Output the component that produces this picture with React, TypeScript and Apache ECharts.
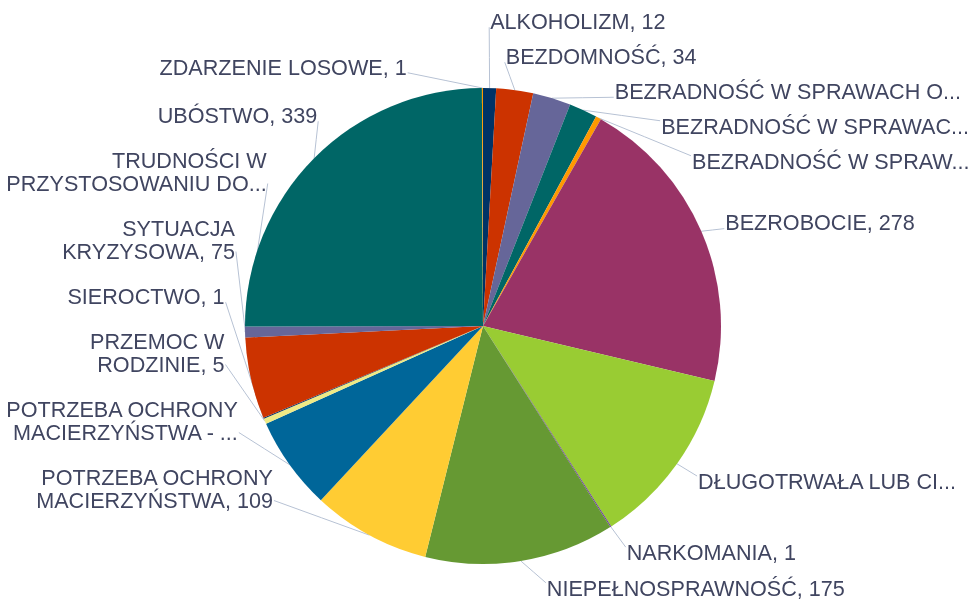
import React, { useEffect, useRef } from "react";
import * as echarts from "echarts";

const categories = [
  "ALKOHOLIZM",
  "BEZDOMNOŚĆ",
  "BEZRADNOŚĆ W SPRAWACH O...",
  "BEZRADNOŚĆ W SPRAWAC...",
  "BEZRADNOŚĆ W SPRAW...",
  "BEZROBOCIE",
  "DŁUGOTRWAŁA LUB CI...",
  "NARKOMANIA",
  "NIEPEŁNOSPRAWNOŚĆ",
  "POTRZEBA OCHRONY\nMACIERZYŃSTWA",
  "POTRZEBA OCHRONY\nMACIERZYŃSTWA - ...",
  "PRZEMOC W\nRODZINIE",
  "SIEROCTWO",
  "SYTUACJA\nKRYZYSOWA",
  "TRUDNOŚCI W\nPRZYSTOSOWANIU DO...",
  "UBÓSTWO",
  "ZDARZENIE LOSOWE",
];

const values = [12, 34, 35, 26, 5, 278, 166, 1, 175, 109, 86, 5, 1, 75, 10, 339, 1];

const palette = [
  "#003366",
  "#cc3300",
  "#666699",
  "#006666",
  "#ff9900",
  "#993366",
  "#99cc33",
  "#663399",
  "#669933",
  "#ffcc33",
  "#006699",
  "#eeea85",
];

// geometry / styling constants
const CX = 483;
const CY = 326;
const RADIUS = 238;
const LABEL_R = 259;
const LABEL_R_BOTTOM = 269;
const LINE_H = 23;

const labelText = (i: number) =>
  categories[i].endsWith("...") ? categories[i] : `${categories[i]}, ${values[i]}`;

type Lbl = {
  i: number;
  mid: number;
  sx: number;
  sy: number;
  ax: number;
  nat: number;
  h: number;
  left: boolean;
  y: number;
  x: number;
};

function resolveSide(list: Lbl[], gap: number, minY: number, maxY: number) {
  type Cl = { idx: number[]; top: number; height: number };
  const fit = (idx: number[]): Cl => {
    let off = 0;
    let s = 0;
    idx.forEach((k) => {
      s += list[k].nat - off;
      off += list[k].h + gap;
    });
    const height = off - gap;
    let top = s / idx.length;
    top = Math.max(minY, Math.min(maxY - height, top));
    return { idx, top, height };
  };
  const clusters: Cl[] = [];
  list.forEach((_, k) => {
    clusters.push(fit([k]));
    while (clusters.length > 1) {
      const b = clusters[clusters.length - 1];
      const a = clusters[clusters.length - 2];
      if (a.top + a.height + gap > b.top) {
        clusters.splice(clusters.length - 2, 2, fit([...a.idx, ...b.idx]));
      } else break;
    }
  });
  clusters.forEach((c) => {
    let y = c.top;
    c.idx.forEach((k) => {
      list[k].y = y;
      y += list[k].h + gap;
    });
  });
}

function computeLabels(): Lbl[] {
  const total = values.reduce((a, b) => a + b, 0);
  let cum = 0;
  const items: Lbl[] = values.map((v, i) => {
    const mid = ((cum + v / 2) / total) * Math.PI * 2;
    cum += v;
    const s = Math.sin(mid);
    const c = Math.cos(mid);
    const h = labelText(i).split("\n").length * LINE_H;
    const ry = c < 0 ? LABEL_R_BOTTOM : LABEL_R;
    return {
      i,
      mid,
      sx: CX + RADIUS * s,
      sy: CY - RADIUS * c,
      ax: CX + LABEL_R * s,
      nat: CY - ry * c - h / 2,
      h,
      left: s < 0,
      y: 0,
      x: 0,
    };
  });
  const right = items.filter((d) => !d.left).sort((a, b) => a.mid - b.mid);
  const left = items.filter((d) => d.left).sort((a, b) => b.mid - a.mid);
  resolveSide(right, 12, 10, 600);
  resolveSide(left, 22, 10, 512);
  items.forEach((d) => {
    const mid = d.y + d.h / 2;
    const top = mid - LINE_H / 2;
    const bot = mid + LINE_H / 2;
    const t = top <= CY && bot >= CY ? 0 : Math.min(Math.abs(CY - top), Math.abs(CY - bot));
    if (t < LABEL_R) {
      const dx = Math.sqrt(LABEL_R * LABEL_R - t * t);
      d.x = d.left ? CX - dx : CX + dx;
    } else {
      d.x = d.ax;
    }
  });
  return items;
}

export default function App() {
  const ref = useRef<HTMLDivElement>(null);
  useEffect(() => {
    const chart = echarts.init(ref.current!, null, { renderer: "svg" });
    const layout = computeLabels();
    chart.setOption({
      animation: false,
      color: palette,
      series: [
        {
          type: "pie",
          center: [CX, CY],
          radius: RADIUS,
          startAngle: 90,
          clockwise: true,
          avoidLabelOverlap: false,
          data: categories.map((n, i) => ({ name: n, value: values[i] })),
          label: {
            show: true,
            position: "outside",
            overflow: "none",
            formatter: (p: any) => labelText(p.dataIndex),
            color: "#404560",
            fontFamily: "Liberation Sans",
            fontSize: 21.6,
            lineHeight: LINE_H,
          },
          labelLine: {
            show: true,
            length: 12,
            length2: 8,
            lineStyle: { color: "#b7c2d4", width: 1 },
          },
          labelLayout: (params: any) => {
            const d = layout[params.dataIndex];
            const cyBox = Math.max(d.y + d.h / 4, Math.min(d.y + (3 * d.h) / 4, d.sy));
            const ex = d.left ? d.x + 1 : d.x - 1;
            return {
              x: d.x,
              y: d.y,
              align: d.left ? "right" : "left",
              verticalAlign: "top",
              labelLinePoints: [
                [d.sx, d.sy],
                [(d.sx + ex) / 2, (d.sy + cyBox) / 2],
                [ex, cyBox],
              ],
            };
          },
          itemStyle: { borderWidth: 0 },
          emphasis: { disabled: true },
        },
      ],
    });
    return () => chart.dispose();
  }, []);
  return (
    <div
      ref={ref}
      style={{ position: "fixed", left: 0, top: 0, width: 978, height: 602 }}
    />
  );
}
